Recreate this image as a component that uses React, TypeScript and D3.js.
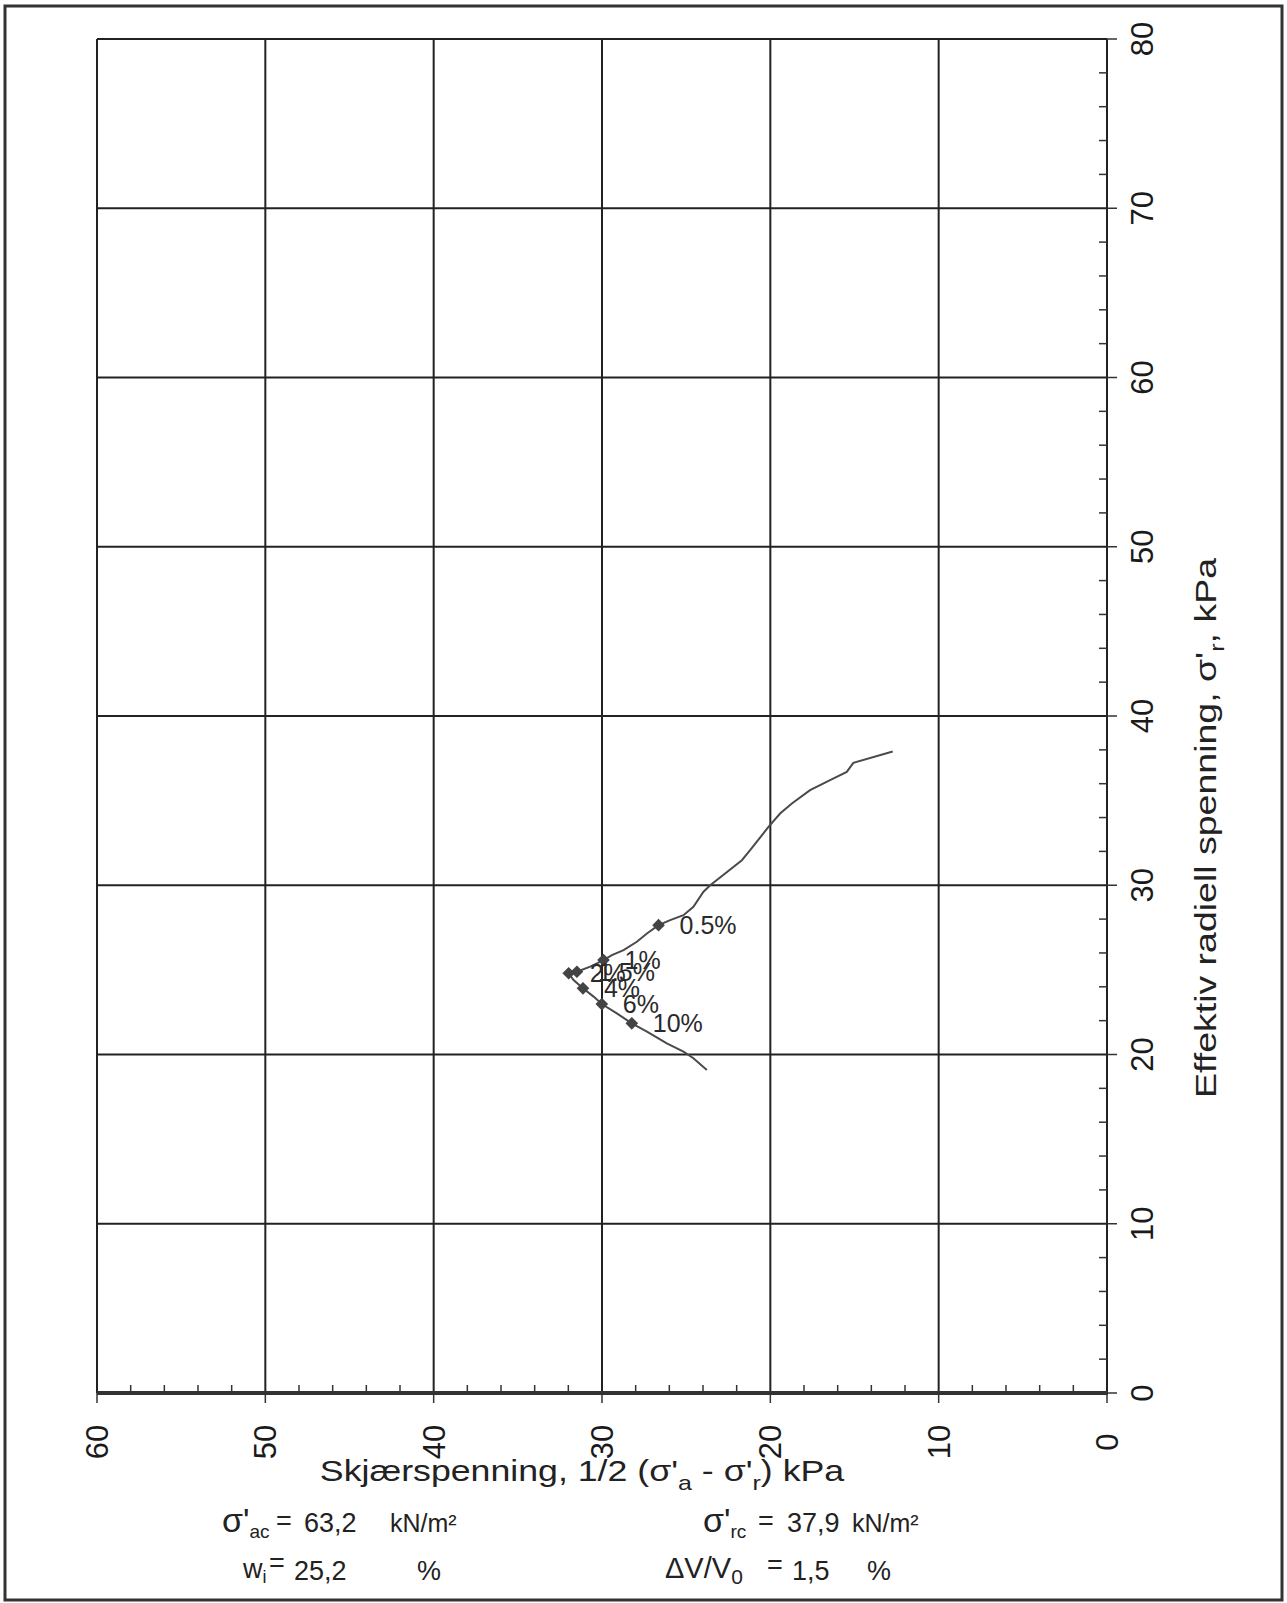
import React from "react";
import * as d3 from "d3";

// stress path (shear = 1/2 (s'a - s'r), radial = s'r), kPa
const shear = [12.73, 15.07, 15.46, 16.45, 17.64, 18.72, 19.42, 20.11, 21.2, 21.69, 23.57, 23.97, 24.57, 25.16, 25.95, 26.64, 27.33, 27.93, 28.72, 29.41, 29.91, 30.7, 31.49, 31.98, 31.69, 31.13, 30.5, 30.01, 29.12, 28.23, 27.33, 26.15, 25.16, 24.57, 23.77];
const radial = [37.9, 37.23, 36.7, 36.21, 35.62, 34.83, 34.24, 33.45, 32.07, 31.48, 30.0, 29.62, 28.73, 28.23, 27.94, 27.64, 27.15, 26.66, 26.17, 25.87, 25.58, 25.19, 24.89, 24.8, 24.4, 23.91, 23.42, 22.98, 22.43, 21.84, 21.35, 20.66, 20.17, 19.78, 19.08];

const strainLabels = ["0.5%", "1%", "1.5%", "2%", "4%", "6%", "10%"];
const strainShear = [26.64, 29.91, 31.49, 31.98, 31.13, 30.01, 28.23];
const strainRadial = [27.64, 25.58, 24.89, 24.8, 23.91, 22.98, 21.84];

const xTicks = [60, 50, 40, 30, 20, 10, 0];
const yTicks = [0, 10, 20, 30, 40, 50, 60, 70, 80];

const W = 1287;
const H = 1603;
const FONT = "'Liberation Sans', Arial, sans-serif";

export default function App() {
  const x = d3.scaleLinear().domain([60, 0]).range([97, 1107]);
  const y = d3.scaleLinear().domain([0, 80]).range([1393, 39]);

  const minorX = d3.range(0, 61, 2).filter((v) => v % 10 !== 0);
  const minorY = d3.range(0, 81, 2).filter((v) => v % 10 !== 0);

  const pts: [number, number][] = shear.map((s, i) => [s, radial[i]]);
  const line = d3
    .line<[number, number]>()
    .x((d) => x(d[0]))
    .y((d) => y(d[1]));

  const diamond = d3.symbol().type(d3.symbolSquare).size(80)() as string;

  const [x0, x1] = x.range();
  const [y0, y1] = y.range();

  return (
    <svg width={W} height={H} style={{ position: "absolute", left: 0, top: 0, background: "#fff" }} fontFamily={FONT}>
      <rect x={5} y={6} width={1277} height={1594} fill="none" stroke="#333" strokeWidth={3} />

      {/* grid */}
      <g stroke="#222" strokeWidth={2}>
        {xTicks.map((v) => (
          <line key={"gx" + v} x1={x(v)} x2={x(v)} y1={y1} y2={y0} />
        ))}
        {yTicks.map((v) => (
          <line key={"gy" + v} x1={x0} x2={x1} y1={y(v)} y2={y(v)} />
        ))}
      </g>
      <line x1={x0} x2={x1 + 1} y1={y0} y2={y0} stroke="#333" strokeWidth={4} />

      {/* ticks */}
      <g stroke="#333" strokeWidth={1.5}>
        {minorX.map((v) => (
          <line key={"mx" + v} x1={x(v)} x2={x(v)} y1={y0 - 8} y2={y0} />
        ))}
        {xTicks.map((v) => (
          <line key={"tx" + v} x1={x(v)} x2={x(v)} y1={y0} y2={y0 + 10} />
        ))}
        {minorY.map((v) => (
          <line key={"my" + v} x1={x1 - 8} x2={x1} y1={y(v)} y2={y(v)} />
        ))}
        {yTicks.map((v) => (
          <line key={"ty" + v} x1={x1} x2={x1 + 10} y1={y(v)} y2={y(v)} />
        ))}
      </g>

      {/* tick labels, rotated like the page */}
      <g fontSize={31} fill="#1a1a1a" textAnchor="middle">
        {xTicks.map((v) => (
          <text key={"lx" + v} transform={`translate(${x(v) + 11},1442) rotate(-90)`}>
            {v}
          </text>
        ))}
        {yTicks.map((v) => (
          <text key={"ly" + v} transform={`translate(1153,${y(v)}) rotate(-90)`}>
            {v}
          </text>
        ))}
      </g>

      {/* stress path */}
      <path d={line(pts) as string} fill="none" stroke="#4a4a4a" strokeWidth={2} />
      {strainLabels.map((lab, i) => (
        <g key={lab}>
          <path d={diamond} transform={`translate(${x(strainShear[i])},${y(strainRadial[i])}) rotate(45)`} fill="#444" />
          <text x={x(strainShear[i]) + 21} y={y(strainRadial[i]) + 9} fontSize={25} fill="#2a2a2a">
            {lab}
          </text>
        </g>
      ))}

      {/* axis titles */}
      <g transform="translate(1216,828) rotate(-90) scale(1.25,1)">
        <text textAnchor="middle" fontSize={30} fill="#222">
          Effektiv radiell spenning, σ'<tspan fontSize={20} dy={8}>r</tspan>
          <tspan dy={-8}>, kPa</tspan>
        </text>
      </g>
      <g transform="translate(582,1481) scale(1.19,1)">
        <text textAnchor="middle" fontSize={30} fill="#222">
          Skjærspenning, 1/2 (σ'<tspan fontSize={21} dy={9}>a</tspan>
          <tspan dy={-9}> - σ'</tspan>
          <tspan fontSize={21} dy={9}>r</tspan>
          <tspan dy={-9}>) kPa</tspan>
        </text>
      </g>

      {/* test parameters */}
      <g fill="#222" fontSize={27}>
        <text x={222} y={1532}>
          <tspan fontSize={34}>σ'</tspan>
          <tspan fontSize={19} dy={6}>ac</tspan>
        </text>
        <text x={276} y={1530}>=</text>
        <text x={304} y={1532}>63,2</text>
        <text x={390} y={1532} fontSize={25}>kN/m²</text>

        <text x={703} y={1532}>
          <tspan fontSize={34}>σ'</tspan>
          <tspan fontSize={19} dy={6}>rc</tspan>
        </text>
        <text x={758} y={1530}>=</text>
        <text x={787} y={1532}>37,9</text>
        <text x={852} y={1532} fontSize={25}>kN/m²</text>

        <text x={243} y={1578}>
          w<tspan fontSize={18} dy={5}>i</tspan>
        </text>
        <text x={269} y={1572}>=</text>
        <text x={294} y={1580}>25,2</text>
        <text x={417} y={1580}>%</text>

        <text x={665} y={1578} fontSize={29}>
          ΔV/V<tspan fontSize={21} dy={6}>0</tspan>
        </text>
        <text x={767} y={1574}>=</text>
        <text x={792} y={1580}>1,5</text>
        <text x={867} y={1580}>%</text>
      </g>
    </svg>
  );
}
